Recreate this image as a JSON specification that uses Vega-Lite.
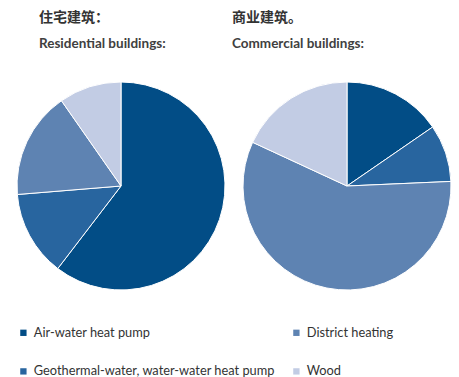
{
  "$schema": "https://vega.github.io/schema/vega-lite/v6.json",
  "padding": {"left": 15, "top": 10, "right": 0, "bottom": 0},
  "autosize": {"type": "pad"},
  "background": "white",
  "datasets": {
    "res": [
      {"type": "Air-water heat pump", "share": 60.4, "rank": 1},
      {"type": "Geothermal-water, water-water heat pump", "share": 13.3, "rank": 2},
      {"type": "District heating", "share": 16.6, "rank": 3},
      {"type": "Wood", "share": 9.7, "rank": 4}
    ],
    "com": [
      {"type": "Air-water heat pump", "share": 15.4, "rank": 1},
      {"type": "Geothermal-water, water-water heat pump", "share": 8.9, "rank": 2},
      {"type": "District heating", "share": 57.6, "rank": 3},
      {"type": "Wood", "share": 18.1, "rank": 4}
    ]
  },
  "spacing": 18,
  "bounds": "flush",
  "hconcat": [
    {
      "title": {"text": "住宅建筑：", "subtitle": "Residential buildings:", "dx": 22},
      "data": {"name": "res"},
      "width": 208,
      "height": 208,
      "mark": {"type": "arc", "stroke": "white", "strokeWidth": 1},
      "encoding": {
        "theta": {"field": "share", "type": "quantitative", "stack": true},
        "order": {"field": "rank", "type": "quantitative"},
        "color": {
          "field": "type",
          "type": "nominal",
          "title": null,
          "scale": {
            "domain": ["Air-water heat pump", "District heating", "Geothermal-water, water-water heat pump", "Wood"],
            "range": ["#024d86", "#5e83b2", "#28659f", "#c2cce4"]
          }
        }
      }
    },
    {
      "title": {"text": "商业建筑。", "subtitle": "Commercial buildings:", "dx": -11},
      "data": {"name": "com"},
      "width": 208,
      "height": 208,
      "mark": {"type": "arc", "stroke": "white", "strokeWidth": 1},
      "encoding": {
        "theta": {"field": "share", "type": "quantitative", "stack": true},
        "order": {"field": "rank", "type": "quantitative"},
        "color": {
          "field": "type",
          "type": "nominal",
          "title": null,
          "scale": {
            "domain": ["Air-water heat pump", "District heating", "Geothermal-water, water-water heat pump", "Wood"],
            "range": ["#024d86", "#5e83b2", "#28659f", "#c2cce4"]
          }
        }
      }
    }
  ],
  "config": {
    "view": {"stroke": null},
    "title": {
      "anchor": "start",
      "frame": "group",
      "font": "Noto Sans CJK SC",
      "fontSize": 14,
      "fontWeight": "bold",
      "color": "#333333",
      "subtitleFont": "Lato",
      "subtitleFontSize": 13.5,
      "subtitleFontWeight": "bold",
      "subtitleColor": "#404040",
      "subtitlePadding": 12,
      "offset": 30
    },
    "legend": {
      "orient": "bottom",
      "columns": 2,
      "symbolType": "square",
      "symbolSize": 40,
      "symbolStrokeWidth": 0,
      "labelFont": "Lato",
      "labelFontSize": 12.8,
      "labelColor": "#333333",
      "rowPadding": 25,
      "columnPadding": 15,
      "offset": 34,
      "labelLimit": 400
    }
  }
}
